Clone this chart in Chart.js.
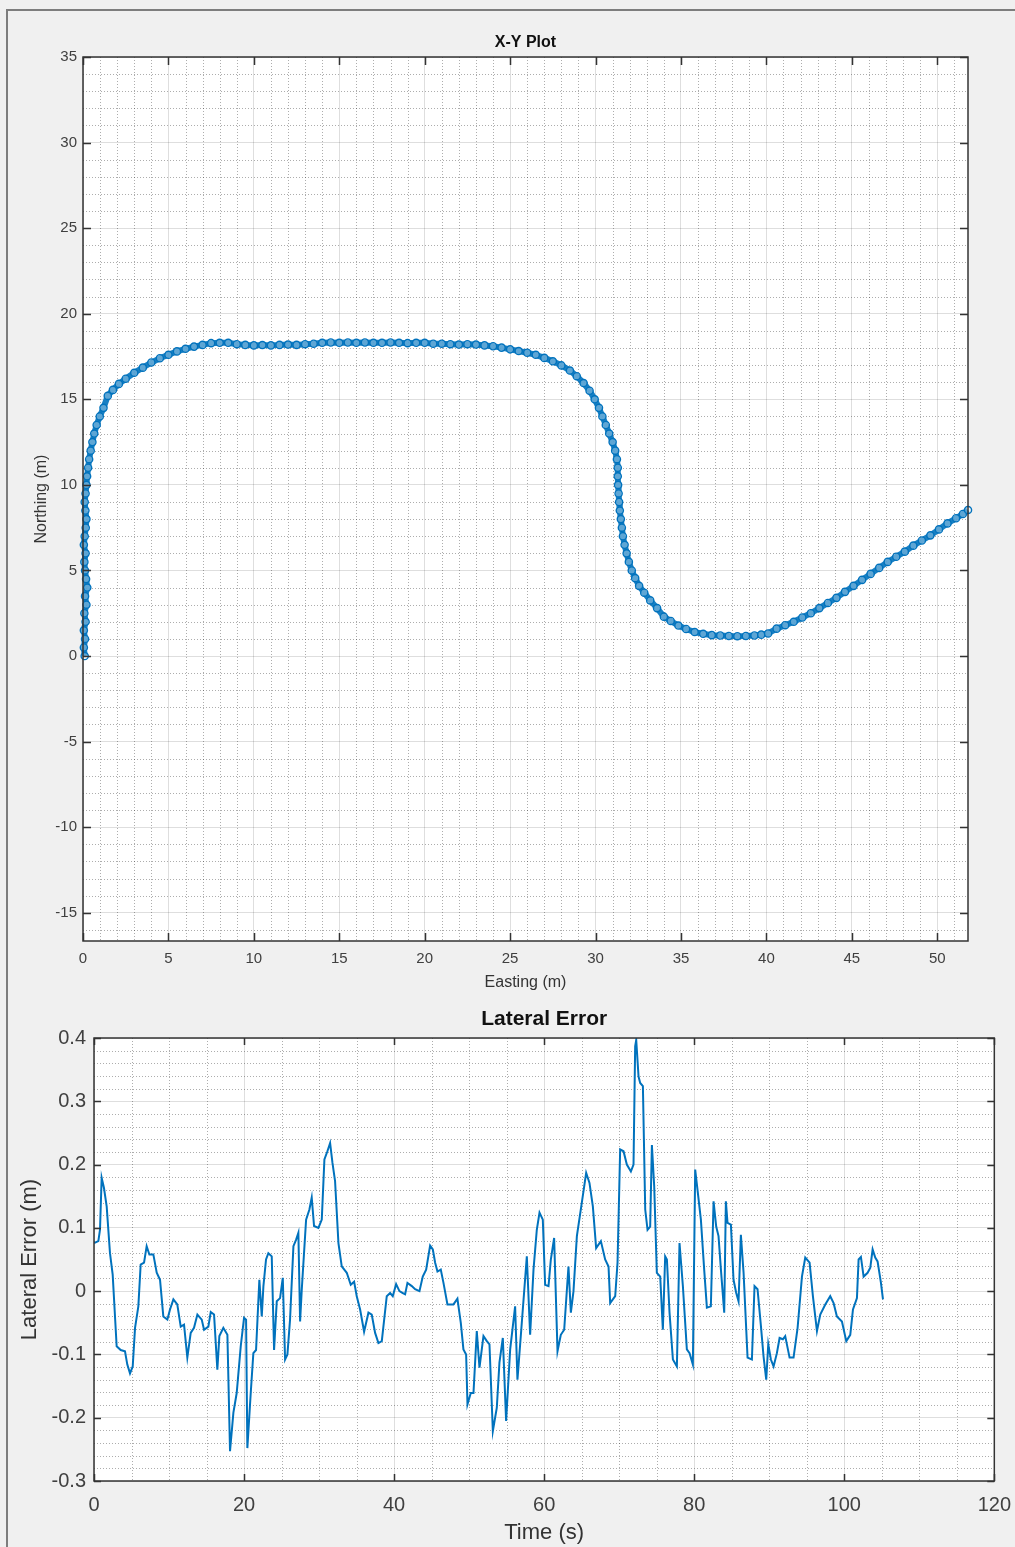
<!DOCTYPE html>
<html>
<head>
<meta charset="utf-8">
<title>X-Y Plot / Lateral Error</title>
<script src="https://cdn.jsdelivr.net/npm/chart.js@4.4.1/dist/chart.umd.min.js"></script>
<style>
  html, body { margin: 0; padding: 0; background: #f0f0f0; }
  body { width: 1015px; height: 1547px; position: relative; overflow: hidden; }
  #frame {
    position: absolute; left: 6px; top: 9px; width: 1100px; height: 1600px;
    border-left: 2px solid #7d7d7d; border-top: 2px solid #7d7d7d;
  }
  canvas { position: absolute; left: 0; }
  #xyPlot { top: 0; }
  #latPlot { top: 1000px; }
</style>
</head>
<body>
<div id="frame"></div>
<canvas id="xyPlot" width="1015" height="1000"></canvas>
<canvas id="latPlot" width="1023" height="547"></canvas>
<script>
const FONT = "'Liberation Sans', Arial, Helvetica, sans-serif";
const LINE_BLUE = "#0072BD";

// X-Y plot: vehicle track (m)
const eastM = [
  0.10, 0.05, 0.12, 0.05, 0.15, 0.08, 0.20, 0.12, 0.25, 0.18,
  0.12, 0.08, 0.15, 0.05, 0.10, 0.16, 0.20, 0.14, 0.10, 0.15,
  0.20, 0.24, 0.30, 0.36, 0.45, 0.55, 0.66, 0.80, 0.98, 1.20,
  1.45, 1.75, 2.10, 2.50, 3.00, 3.50, 4.00, 4.50, 5.00, 5.50,
  6.00, 6.50, 7.00, 7.50, 8.00, 8.50, 9.00, 9.50, 10.0, 10.5,
  11.0, 11.5, 12.0, 12.5, 13.0, 13.5, 14.0, 14.5, 15.0, 15.5,
  16.0, 16.5, 17.0, 17.5, 18.0, 18.5, 19.0, 19.5, 20.0, 20.5,
  21.0, 21.5, 22.0, 22.5, 23.0, 23.5, 24.0, 24.5, 25.0, 25.5,
  26.0, 26.5, 27.0, 27.5, 28.0, 28.5, 28.9, 29.3, 29.65, 29.95,
  30.2, 30.4, 30.6, 30.8, 31.0, 31.15, 31.25, 31.3, 31.3, 31.32,
  31.35, 31.38, 31.42, 31.48, 31.54, 31.6, 31.7, 31.82, 31.95, 32.12,
  32.32,
  32.55, 32.85, 33.2, 33.6, 34.0, 34.4, 34.85, 35.3, 35.8, 36.3,
  36.8, 37.3, 37.8, 38.3, 38.8, 39.3, 39.7, 40.1, 40.6, 41.1,
  41.6, 42.1, 42.6, 43.1, 43.6, 44.1, 44.6, 45.1, 45.6, 46.1,
  46.6, 47.1, 47.6, 48.1, 48.6, 49.1, 49.6, 50.1, 50.6, 51.1,
  51.5, 51.8
];
const northM = [
  0.0, 0.5, 1.0, 1.5, 2.0, 2.5, 3.0, 3.5, 4.0, 4.5,
  5.0, 5.5, 6.0, 6.5, 7.0, 7.5, 8.0, 8.5, 9.0, 9.5,
  10.0, 10.5, 11.0, 11.5, 12.0, 12.5, 13.0, 13.5, 14.0, 14.5,
  15.2, 15.55, 15.9, 16.2, 16.55, 16.85, 17.15, 17.4, 17.6, 17.8,
  17.95, 18.08, 18.18, 18.28, 18.3, 18.3, 18.22, 18.18, 18.15, 18.17,
  18.15, 18.18, 18.2, 18.18, 18.22, 18.25, 18.3, 18.32, 18.3, 18.32,
  18.3, 18.32, 18.3, 18.3, 18.32, 18.3, 18.28, 18.3, 18.3, 18.25,
  18.25, 18.22, 18.2, 18.22, 18.2, 18.15, 18.1, 18.02, 17.92, 17.82,
  17.72, 17.6, 17.42, 17.22, 16.98, 16.68, 16.35, 15.95, 15.5, 15.0,
  14.5, 14.0, 13.5, 13.0, 12.5, 12.0, 11.5, 11.0, 10.5, 10.0,
  9.5, 9.0, 8.5, 8.0, 7.5, 7.0, 6.5, 6.0, 5.5, 5.0,
  4.55,
  4.1, 3.7, 3.25, 2.8, 2.3, 2.05, 1.78, 1.58, 1.4, 1.3,
  1.22, 1.2, 1.17, 1.16, 1.17, 1.2, 1.25, 1.32, 1.6, 1.8,
  2.0, 2.25, 2.5, 2.8, 3.1, 3.4, 3.75, 4.1, 4.45, 4.8,
  5.15, 5.5, 5.8, 6.1, 6.45, 6.75, 7.05, 7.4, 7.75, 8.05,
  8.3, 8.53
];
const xyXTicks = [0, 5, 10, 15, 20, 25, 30, 35, 40, 45, 50];
const xyYTicks = [-15, -10, -5, 0, 5, 10, 15, 20, 25, 30, 35];

// Lateral error (m) against time (s)
const timeS = [
  0, 0.58, 0.8, 1.02, 1.33, 1.69, 2.13, 2.49, 3.02, 3.56,
  4.13, 4.44, 4.8, 5.16, 5.47, 5.91, 6.22, 6.67, 7.02, 7.38,
  7.91, 8.36, 8.8, 9.24, 9.78, 10.13, 10.58, 11.1, 11.56, 12.0,
  12.44, 12.89, 13.33, 13.78, 14.36, 14.67, 15.24, 15.56, 16.0, 16.44,
  16.71, 17.24, 17.78, 18.13, 18.58, 19.02, 19.56, 20.0, 20.27, 20.44,
  20.89, 21.24, 21.6, 22.04, 22.36, 22.58, 22.93, 23.24, 23.69, 24.0,
  24.36, 24.8, 25.16, 25.47, 25.78, 26.13, 26.58, 26.93, 27.24, 27.47,
  27.69, 28.27, 28.71, 29.02, 29.33, 29.91, 30.36, 30.71, 31.11, 31.47,
  31.78, 32.13, 32.58, 33.02, 33.69, 34.22, 34.67, 35.02, 35.47, 36.0,
  36.58, 37.02, 37.47, 37.91, 38.36, 39.02, 39.47, 39.82, 40.27, 40.71,
  41.16, 41.47, 41.78, 42.36, 42.8, 43.38, 43.82, 44.27, 44.8, 45.16,
  45.47, 45.78, 46.22, 46.58, 47.11, 47.91, 48.44, 48.89, 49.24, 49.6,
  49.78, 50.22, 50.58, 51.02, 51.38, 51.91, 52.36, 52.71, 53.16, 53.69,
  54.04, 54.49, 54.93, 55.47, 56.13, 56.44, 57.02, 57.69, 58.13, 58.58,
  59.02, 59.38, 59.82, 60.13, 60.58, 60.89, 61.33, 61.78, 62.22, 62.67,
  63.24, 63.56, 63.91, 64.36, 65.02, 65.6, 66.04, 66.49, 66.93, 67.56,
  68.13, 68.58, 68.8, 69.47, 69.78, 70.13, 70.58, 71.02, 71.56, 71.91,
  72.13, 72.27, 72.58, 72.8, 73.16, 73.47, 73.78, 74.13, 74.36, 74.67,
  75.02, 75.47, 75.82, 76.13, 76.36, 76.71, 77.16, 77.69, 78.04, 78.49,
  79.02, 79.38, 79.82, 80.13, 80.44, 80.89, 81.33, 81.69, 82.22, 82.58,
  82.93, 83.24, 83.56, 84.0, 84.22, 84.44, 84.89, 85.24, 85.6, 85.91,
  86.22, 86.58, 87.11, 87.69, 88.04, 88.44, 88.89, 89.24, 89.6, 89.87,
  90.22, 90.58, 91.02, 91.38, 91.82, 92.13, 92.71, 93.24, 93.78, 94.36,
  94.8, 95.38, 95.82, 96.36, 96.8, 97.47, 98.13, 98.58, 99.02, 99.69,
  100.27, 100.8, 101.16, 101.69, 101.91, 102.22, 102.58, 103.11, 103.47, 103.78,
  104.13, 104.44, 104.89, 105.16
];
const latErrM = [
  0.076, 0.079, 0.097, 0.179, 0.163, 0.134, 0.06, 0.026, -0.087, -0.093,
  -0.095, -0.116, -0.13, -0.119, -0.058, -0.024, 0.042, 0.045, 0.071, 0.058,
  0.058, 0.029, 0.018, -0.04, -0.045, -0.029, -0.013, -0.021, -0.056, -0.053,
  -0.105, -0.066, -0.058, -0.037, -0.045, -0.061, -0.056, -0.033, -0.037, -0.124,
  -0.071, -0.058, -0.069, -0.253, -0.192, -0.161, -0.087, -0.042, -0.045, -0.248,
  -0.161, -0.098, -0.093, 0.018, -0.04, 0.008, 0.05, 0.06, 0.055, -0.093,
  -0.016, -0.011, 0.021, -0.108, -0.1, -0.045, 0.071, 0.081, 0.092, -0.048,
  0.002, 0.113, 0.129, 0.148, 0.103, 0.1, 0.113, 0.208, 0.221, 0.234,
  0.203, 0.174, 0.076, 0.039, 0.029, 0.01, 0.015, -0.008, -0.029, -0.064,
  -0.034, -0.037, -0.066, -0.082, -0.079, -0.008, -0.003, -0.008, 0.011, 0.0,
  -0.003, -0.005, 0.013, 0.008, 0.003, 0.0, 0.023, 0.034, 0.072, 0.066,
  0.045, 0.031, 0.034, 0.013, -0.021, -0.021, -0.012, -0.05, -0.092, -0.1,
  -0.179, -0.161, -0.161, -0.063, -0.121, -0.071, -0.079, -0.084, -0.221, -0.184,
  -0.113, -0.074, -0.205, -0.092, -0.024, -0.14, -0.05, 0.055, -0.069, 0.034,
  0.097, 0.124, 0.113, 0.01, 0.008, 0.05, 0.084, -0.095, -0.069, -0.061,
  0.039, -0.034, 0.0, 0.087, 0.14, 0.187, 0.171, 0.134, 0.068, 0.079,
  0.05, 0.039, -0.019, -0.008, 0.045, 0.224, 0.221, 0.2, 0.189, 0.2,
  0.387, 0.397, 0.339, 0.329, 0.324, 0.129, 0.097, 0.102, 0.231, 0.165,
  0.029, 0.023, -0.061, 0.055, 0.05, -0.034, -0.108, -0.119, 0.076, 0.008,
  -0.092, -0.098, -0.116, 0.192, 0.16, 0.113, 0.034, -0.026, -0.024, 0.142,
  0.102, 0.087, 0.034, -0.034, 0.142, 0.108, 0.105, 0.018, -0.003, -0.016,
  0.089, 0.029, -0.105, -0.108, 0.008, 0.003, -0.055, -0.103, -0.14, -0.084,
  -0.108, -0.119, -0.098, -0.074, -0.076, -0.071, -0.105, -0.105, -0.058, 0.023,
  0.053, 0.045, -0.008, -0.063, -0.037, -0.021, -0.008, -0.019, -0.04, -0.048,
  -0.079, -0.069, -0.029, -0.011, 0.05, 0.054, 0.023, 0.029, 0.037, 0.066,
  0.053, 0.047, 0.013, -0.013
];
const latXTicks = [0, 20, 40, 60, 80, 100, 120];
const latYTicks = [-0.3, -0.2, -0.1, 0, 0.1, 0.2, 0.3, 0.4];
const latYTickLabels = ["-0.3", "-0.2", "-0.1", "0", "0.1", "0.2", "0.3", "0.4"];

// white axes background, dotted minor grid, box and inward ticks (MATLAB look)
const matlabAxes = {
  id: "matlabAxes",
  beforeDraw(chart, args, o) {
    const { ctx, chartArea: a, scales: { x, y } } = chart;
    ctx.save();
    ctx.fillStyle = "#ffffff";
    ctx.fillRect(a.left, a.top, a.width, a.height);
    ctx.strokeStyle = "rgba(0, 0, 0, 0.32)";
    ctx.lineWidth = 1;
    ctx.setLineDash([1, 2]);
    ctx.beginPath();
    for (let i = Math.ceil(x.min / o.xMinor - 1e-9); i * o.xMinor <= x.max + 1e-9; i++) {
      if (i % o.xEvery === 0) continue;
      const px = Math.round(x.getPixelForValue(i * o.xMinor)) + 0.5;
      ctx.moveTo(px, a.top);
      ctx.lineTo(px, a.bottom);
    }
    for (let i = Math.ceil(y.min / o.yMinor - 1e-9); i * o.yMinor <= y.max + 1e-9; i++) {
      if (i % o.yEvery === 0) continue;
      const py = Math.round(y.getPixelForValue(i * o.yMinor)) + 0.5;
      ctx.moveTo(a.left, py);
      ctx.lineTo(a.right, py);
    }
    ctx.stroke();
    ctx.restore();
  },
  afterDatasetsDraw(chart, args, o) {
    const { ctx, chartArea: a, scales: { x, y } } = chart;
    ctx.save();
    ctx.strokeStyle = "#333333";
    ctx.lineWidth = 1.5;
    ctx.beginPath();
    x.ticks.forEach((t) => {
      const px = Math.round(x.getPixelForValue(t.value)) + 0.5;
      ctx.moveTo(px, a.bottom);
      ctx.lineTo(px, a.bottom - o.tickLen);
      ctx.moveTo(px, a.top);
      ctx.lineTo(px, a.top + o.tickLen);
    });
    y.ticks.forEach((t) => {
      const py = Math.round(y.getPixelForValue(t.value)) + 0.5;
      ctx.moveTo(a.left, py);
      ctx.lineTo(a.left + o.tickLen, py);
      ctx.moveTo(a.right, py);
      ctx.lineTo(a.right - o.tickLen, py);
    });
    ctx.stroke();
    ctx.strokeRect(a.left, a.top, a.width, a.height);
    ctx.restore();
  }
};

function axisFont(size, weight = "normal") {
  return { family: FONT, size, weight };
}

new Chart(document.getElementById("xyPlot"), {
  type: "scatter",
  data: {
    datasets: [
      {
        data: eastM.map((e, i) => ({ x: e, y: northM[i] })),
        showLine: true,
        borderColor: "rgba(0, 114, 189, 0.9)",
        borderWidth: 6,
        pointRadius: 3.6,
        pointBorderWidth: 1.4,
        pointBorderColor: LINE_BLUE,
        pointBackgroundColor: "rgba(255, 255, 255, 0.3)",
        clip: 6
      }
    ]
  },
  options: {
    responsive: false,
    animation: false,
    events: [],
    layout: { padding: { left: 0, right: 47, top: 0, bottom: 0 } },
    plugins: {
      legend: { display: false },
      tooltip: { enabled: false },
      title: {
        display: true,
        fullSize: false,
        text: "X-Y Plot",
        color: "#111111",
        font: axisFont(16, "bold"),
        padding: { top: 33, bottom: 4.8 }
      },
      matlabAxes: { xMinor: 1, xEvery: 5, yMinor: 1, yEvery: 5, tickLen: 8 }
    },
    scales: {
      x: {
        type: "linear",
        min: 0,
        max: 51.8,
        afterBuildTicks: (scale) => { scale.ticks = xyXTicks.map((v) => ({ value: v })); },
        afterFit: (scale) => { scale.height = 59; },
        grid: { color: "rgba(0, 0, 0, 0.13)", drawTicks: false },
        border: { display: false },
        ticks: { padding: 9, color: "#404040", font: axisFont(15) },
        title: { display: true, text: "Easting (m)", color: "#333333", font: axisFont(16), padding: { top: 0, bottom: 7.5 } }
      },
      y: {
        type: "linear",
        min: -16.65,
        max: 35,
        afterBuildTicks: (scale) => { scale.ticks = xyYTicks.map((v) => ({ value: v })); },
        afterFit: (scale) => { scale.width = 83; },
        grid: { color: "rgba(0, 0, 0, 0.13)", drawTicks: false },
        border: { display: false },
        ticks: { padding: 6, color: "#404040", font: axisFont(15) },
        title: { display: true, text: "Northing (m)", color: "#333333", font: axisFont(16), padding: { top: 31.5, bottom: 0 } }
      }
    }
  },
  plugins: [matlabAxes]
});

new Chart(document.getElementById("latPlot"), {
  type: "scatter",
  data: {
    datasets: [
      {
        data: timeS.map((t, i) => ({ x: t, y: latErrM[i] })),
        showLine: true,
        borderColor: LINE_BLUE,
        borderWidth: 2,
        pointRadius: 0,
        tension: 0
      }
    ]
  },
  options: {
    responsive: false,
    animation: false,
    events: [],
    layout: { padding: { left: 0, right: 21, top: 0, bottom: 0 } },
    plugins: {
      legend: { display: false },
      tooltip: { enabled: false },
      title: {
        display: true,
        fullSize: false,
        text: "Lateral Error",
        color: "#111111",
        font: axisFont(21, "bold"),
        padding: { top: 6.4, bottom: 6.4 }
      },
      matlabAxes: { xMinor: 5, xEvery: 4, yMinor: 0.02, yEvery: 5, tickLen: 7 }
    },
    scales: {
      x: {
        type: "linear",
        min: 0,
        max: 120,
        afterBuildTicks: (scale) => { scale.ticks = latXTicks.map((v) => ({ value: v })); },
        afterFit: (scale) => { scale.height = 66; },
        grid: { color: "rgba(0, 0, 0, 0.13)", drawTicks: false },
        border: { display: false },
        ticks: { padding: 12, color: "#404040", font: axisFont(20) },
        title: { display: true, text: "Time (s)", color: "#333333", font: axisFont(22), padding: { top: 0, bottom: 0.8 } }
      },
      y: {
        type: "linear",
        min: -0.3,
        max: 0.4,
        afterBuildTicks: (scale) => { scale.ticks = latYTicks.map((v) => ({ value: v })); },
        afterFit: (scale) => { scale.width = 94; },
        grid: { color: "rgba(0, 0, 0, 0.13)", drawTicks: false },
        border: { display: false },
        ticks: {
          padding: 8,
          color: "#404040",
          font: axisFont(20),
          callback: (value, index) => latYTickLabels[index]
        },
        title: { display: true, text: "Lateral Error (m)", color: "#333333", font: axisFont(22), padding: { top: 16.8, bottom: 0 } }
      }
    }
  },
  plugins: [matlabAxes]
});
</script>
</body>
</html>
